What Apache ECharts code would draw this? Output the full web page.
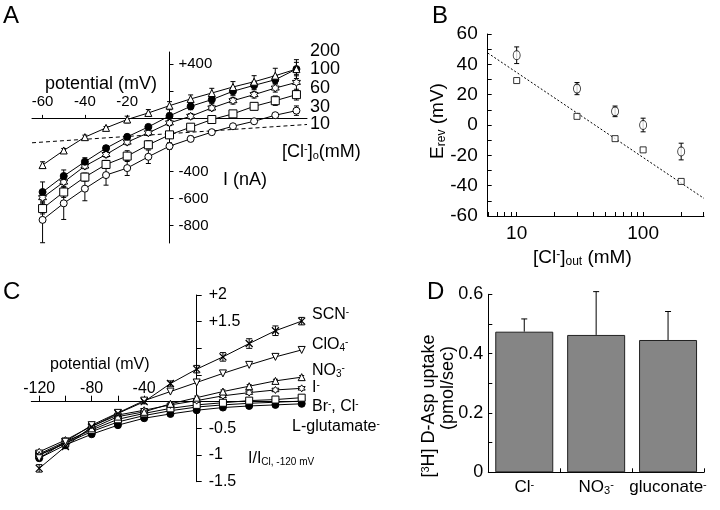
<!DOCTYPE html>
<html>
<head>
<meta charset="utf-8">
<script src="https://cdn.jsdelivr.net/npm/echarts@6/dist/echarts.min.js"></script>
<style>
  html, body { margin: 0; background: #fff; }
  #main { width: 720px; height: 510px; }
</style>
</head>
<body>
<div id="main"></div>
<script>
// A: I-V curves at different [Cl-]o
const vA = [-60, -50, -40, -30, -20, -10, 0, 10, 20, 30, 40, 50, 60]
const iA200 = [-351, -242, -143, -74, -12, 37, 91, 141, 185, 230, 269, 314, 363]
const eA200 = [25, 15, 15, 10, 25, 25, 30, 30, 35, 40, 45, 55, 70]
const iA100 = [-551, -432, -326, -225, -141, -67, 15, 86, 136, 198, 242, 284, 363]
const eA100 = [75, 45, 30, 20, 15, 15, 20, 25, 30, 30, 30, 30, 50]
const iA60 = [-593, -477, -358, -272, -180, -111, -37, 12, 74, 128, 173, 222, 264]
const eA60 = [25, 20, 20, 20, 20, 20, 20, 20, 20, 25, 25, 30, 60]
const iA30 = [-674, -551, -440, -346, -284, -200, -126, -69, -12, 30, 86, 128, 173]
const eA30 = [40, 40, 30, 30, 40, 30, 25, 15, 15, 15, 25, 35, 40]
const iA10 = [-758, -635, -526, -425, -373, -289, -210, -156, -106, -62, -25, 20, 54]
const eA10 = [170, 120, 90, 75, 55, 50, 25, 20, 10, 10, 10, 10, 35]
const leakV = [-65, 65]
const leakI = [-185, -49]
const tickA_x = [-60, -40, -20]
const tickA_y = [400, 200, -200, -400, -600, -800]
const labelA_y = [400, -400, -600, -800]

// B: reversal potential vs [Cl-]out
const clB = [10, 30, 60, 100, 200]
const eRevCirc = [46, 24, 9, 0, -17.5]
const eRevCircErr = [5.5, 4, 3.5, 4.5, 5.5]
const eRevSq = [29.3, 5.7, -9, -16.4, -37.2]
const nernstX = [5.9, 303]
const nernstY = [47.5, -48.4]
const tickB_x = [6, 7, 8, 9, 10, 20, 30, 40, 50, 60, 70, 80, 90, 100, 200, 300]

// C: normalised I-V with different anions
const vC = [-120, -100, -80, -60, -40, -20, 0, 20, 40, 60, 80]
const cSCN = [-1.25, -0.84, -0.47, -0.22, 0.0, 0.34, 0.61, 0.84, 1.09, 1.33, 1.51]
const eSCN = [0.07, 0.04, 0.03, 0.03, 0.04, 0.05, 0.07, 0.08, 0.09, 0.09, 0.07]
const cClO4 = [-1.06, -0.75, -0.44, -0.21, 0.02, 0.19, 0.36, 0.53, 0.69, 0.84, 0.97]
const cNO3 = [-1.0, -0.78, -0.5, -0.28, -0.19, -0.04, 0.075, 0.19, 0.29, 0.39, 0.46]
const eNO3 = [0.03, 0.03, 0.03, 0.03, 0.03, 0.03, 0.03, 0.03, 0.03, 0.03, 0.03]
const cI = [-0.94, -0.72, -0.46, -0.25, -0.16, -0.06, 0.02, 0.11, 0.17, 0.22, 0.25]
const cBr = [-0.98, -0.75, -0.53, -0.33, -0.22, -0.125, -0.06, -0.02, 0.02, 0.04, 0.075]
const cCl = [-1.0, -0.78, -0.56, -0.38, -0.26, -0.17, -0.1, -0.06, -0.03, -0.01, 0.01]
const cGlu = [-1.06, -0.81, -0.61, -0.44, -0.31, -0.23, -0.16, -0.11, -0.08, -0.06, -0.04]
const tickC_x = [-120, -100, -80, -60, -40]
const labelC_x = [-120, -80, -40]

// D: D-Asp uptake
const anionsD = ['Cl-', 'NO3-', 'gluconate-']
const anionLabelsD = ['Cl{sup|-}', 'NO{sub|3}{sup|-}', 'gluconate{sup|-}']
const uptakeD = [0.474, 0.463, 0.446]
const uptakeErrD = [0.043, 0.146, 0.096]

const FONT = '"Liberation Sans", Arial, Helvetica, sans-serif'
const pairs = (xs, ys) => xs.map((x, i) => [x, ys[i]])
const triples = (xs, ys, es) => xs.map((x, i) => [x, ys[i], es[i]])
const rich = size => ({
  sup: { fontSize: Math.round(size * 0.62), fontFamily: FONT, verticalAlign: 'top', lineHeight: size },
  sub: { fontSize: Math.round(size * 0.62), fontFamily: FONT, verticalAlign: 'bottom', lineHeight: size }
})
const hexStar = 'path://M0,-10L2.9,-5L8.7,-5L5.8,0L8.7,5L2.9,5L0,10L-2.9,5L-8.7,5L-5.8,0L-8.7,-5L-2.9,-5Z'
const cross = 'path://M0,0L10,10M10,0L0,10'
const black = { color: '#000', width: 1 }

function curve(g, xs, ys, symbol, size, filled, extra) {
  return Object.assign({
    type: 'line', xAxisIndex: g, yAxisIndex: g, data: pairs(xs, ys),
    symbol, symbolSize: size, showSymbol: true, z: 3, silent: true,
    lineStyle: black,
    itemStyle: { color: filled ? '#000' : '#fff', borderColor: '#000', borderWidth: 1 }
  }, extra)
}

function errorBars(g, xs, ys, es, capW, upOnly) {
  return {
    type: 'custom', xAxisIndex: g, yAxisIndex: g, z: 2, silent: true,
    data: triples(xs, ys, es),
    renderItem: (params, api) => {
      const x = api.value(0), y = api.value(1), e = api.value(2)
      const top = api.coord([x, y + e])
      const bot = api.coord([x, upOnly ? y : y - e])
      const st = { stroke: '#000', lineWidth: 1 }
      const kids = [
        { type: 'line', shape: { x1: top[0], y1: top[1], x2: bot[0], y2: bot[1] }, style: st },
        { type: 'line', shape: { x1: top[0] - capW, y1: top[1], x2: top[0] + capW, y2: top[1] }, style: st }
      ]
      if (!upOnly) kids.push({ type: 'line', shape: { x1: bot[0] - capW, y1: bot[1], x2: bot[0] + capW, y2: bot[1] }, style: st })
      return { type: 'group', children: kids }
    }
  }
}

function txt(x, y, text, size, extra) {
  return Object.assign({
    type: 'text', x, y, silent: true,
    style: {
      text, fontSize: size, fontFamily: FONT, fill: '#000',
      align: 'left', textAlign: 'left', verticalAlign: 'middle', textVerticalAlign: 'middle',
      rich: rich(size)
    }
  }, extra)
}

function vtxt(x, y, text, size) {
  const t = txt(0, 0, text, size, { rotation: Math.PI / 2, x, y })
  t.style.align = t.style.textAlign = 'center'
  return t
}

const myChart = echarts.init(document.getElementById('main'))

// crossed axes in A and C: pushed into the grid with a negative offset so they sit on zero
const option = {
  animation: false,
  textStyle: { fontFamily: FONT, color: '#000' },
  grid: [
    { left: 32, right: 413, top: 52, bottom: 267 },
    { left: 487.7, right: 16, top: 34, bottom: 294 },
    { left: 31.3, right: 415.7, top: 295, bottom: 28.3 },
    { left: 488.3, right: 16, top: 294.3, bottom: 37.7 }
  ],
  xAxis: [
    {
      gridIndex: 0, type: 'value', min: -65, max: 65, position: 'top', offset: -65.9,
      axisLine: { onZero: false, lineStyle: black },
      axisTick: { show: true, length: 3, customValues: tickA_x, lineStyle: black },
      axisLabel: { customValues: tickA_x, fontSize: 15, color: '#000', margin: 9 },
      splitLine: { show: false }
    },
    {
      gridIndex: 1, type: 'log', logBase: 10, min: 5.9, max: 303,
      axisLine: { onZero: false, lineStyle: black },
      axisTick: { show: true, inside: true, length: 4, customValues: tickB_x, lineStyle: black },
      axisLabel: { fontSize: 19, color: '#000', margin: 8, showMinLabel: false, showMaxLabel: false },
      splitLine: { show: false }, minorTick: { show: false }
    },
    {
      gridIndex: 2, type: 'value', min: -126, max: 82, position: 'top', offset: -106.7,
      axisLine: { onZero: false, lineStyle: black },
      axisTick: { show: true, length: 6, customValues: tickC_x, lineStyle: black },
      axisLabel: { customValues: labelC_x, fontSize: 16, color: '#000', margin: 5 },
      splitLine: { show: false }
    },
    {
      gridIndex: 3, type: 'category', data: anionsD,
      axisLine: { lineStyle: black },
      axisTick: { show: true, inside: true, length: 4, lineStyle: black },
      axisLabel: {
        interval: 0, fontSize: 17, color: '#000', margin: 7, rich: rich(17),
        formatter: (v, i) => anionLabelsD[i]
      },
      splitLine: { show: false }
    }
  ],
  yAxis: [
    {
      gridIndex: 0, type: 'value', min: -930, max: 490, position: 'right', offset: -137.5,
      axisLine: { onZero: false, lineStyle: black },
      axisTick: { show: true, length: 4, customValues: tickA_y, lineStyle: black },
      axisLabel: {
        customValues: labelA_y, fontSize: 15, color: '#000', margin: 9,
        formatter: v => (v > 0 ? '+' + v : '' + v)
      },
      splitLine: { show: false }
    },
    {
      gridIndex: 1, type: 'value', min: -60, max: 60, interval: 10,
      axisLine: { show: true, onZero: false, lineStyle: black },
      axisTick: { show: true, inside: true, length: 4, lineStyle: black },
      axisLabel: {
        fontSize: 19, color: '#000', margin: 10,
        formatter: v => (v % 20 === 0 ? '' + v : '')
      },
      splitLine: { show: false }
    },
    {
      gridIndex: 2, type: 'value', min: -1.5, max: 2, interval: 0.5, position: 'right', offset: -107.6,
      axisLine: { onZero: false, lineStyle: black },
      axisTick: { show: true, length: 5, lineStyle: black },
      axisLabel: {
        fontSize: 16, color: '#000', margin: 12,
        formatter: v => (v >= 1.5 ? '+' + v : v < 0 ? '' + v : '')
      },
      splitLine: { show: false }
    },
    {
      gridIndex: 3, type: 'value', min: 0, max: 0.6, interval: 0.1,
      axisLine: { show: true, lineStyle: black },
      axisTick: { show: true, inside: true, length: 4, lineStyle: black },
      axisLabel: {
        fontSize: 18, color: '#000', margin: 5,
        formatter: v => (Math.round(v * 10) % 2 === 0 ? (v === 0 ? '0' : v.toFixed(1)) : '')
      },
      splitLine: { show: false }
    }
  ],
  series: [
    // A
    errorBars(0, vA, iA200, eA200, 2.5),
    errorBars(0, vA, iA100, eA100, 2.5),
    errorBars(0, vA, iA60, eA60, 2.5),
    errorBars(0, vA, iA30, eA30, 2.5),
    errorBars(0, vA, iA10, eA10, 2.5),
    {
      type: 'line', xAxisIndex: 0, yAxisIndex: 0, data: pairs(leakV, leakI),
      showSymbol: false, silent: true, z: 1,
      lineStyle: { color: '#000', width: 1, type: [4, 3] }
    },
    curve(0, vA, iA10, 'circle', 7, false),
    curve(0, vA, iA30, 'rect', 8, false),
    curve(0, vA, iA60, hexStar, 8, false),
    curve(0, vA, iA100, 'circle', 7, true),
    curve(0, vA, iA200, 'triangle', 7, false),
    // B
    {
      type: 'line', xAxisIndex: 1, yAxisIndex: 1, data: pairs(nernstX, nernstY),
      showSymbol: false, silent: true, z: 1,
      lineStyle: { color: '#000', width: 1, type: [2, 2] }
    },
    errorBars(1, clB, eRevCirc, eRevCircErr, 2.5),
    {
      type: 'scatter', xAxisIndex: 1, yAxisIndex: 1, data: pairs(clB, eRevCirc),
      symbol: 'circle', symbolSize: [7, 9], silent: true, z: 3,
      itemStyle: { color: '#fff', borderColor: '#000', borderWidth: 1 }
    },
    {
      type: 'scatter', xAxisIndex: 1, yAxisIndex: 1, data: pairs(clB, eRevSq),
      symbol: 'rect', symbolSize: 6, silent: true, z: 3,
      itemStyle: { color: '#fff', borderColor: '#000', borderWidth: 1 }
    },
    // C
    errorBars(2, vC, cSCN, eSCN, 3),
    errorBars(2, vC, cNO3, eNO3, 2.5),
    curve(2, vC, cGlu, 'circle', 7, true),
    curve(2, vC, cCl, 'rect', 6, true),
    curve(2, vC, cBr, 'rect', 7, false),
    curve(2, vC, cI, hexStar, 7, false),
    curve(2, vC, cNO3, 'triangle', 7, false),
    curve(2, vC, cClO4, 'triangle', 7, false, { symbolRotate: 180 }),
    curve(2, vC, cSCN, cross, 7, false, { itemStyle: { color: '#000', borderColor: '#000', borderWidth: 1.2 } }),
    // D
    {
      type: 'bar', xAxisIndex: 3, yAxisIndex: 3, data: uptakeD, barWidth: 58, silent: true,
      itemStyle: { color: '#858585', borderColor: '#222', borderWidth: 1 }
    },
    errorBars(3, [0, 1, 2], uptakeD, uptakeErrD, 3, true)
  ],
  graphic: [
    txt(3, 16, 'A', 24),
    txt(432, 16, 'B', 24),
    txt(3, 292, 'C', 24),
    txt(427, 292, 'D', 24),
    // A labels
    txt(45, 84, 'potential (mV)', 18),
    txt(223, 180, 'I (nA)', 18),
    txt(310, 51, '200', 18),
    txt(310, 69, '100', 18),
    txt(310, 88, '60', 18),
    txt(310, 107, '30', 18),
    txt(310, 124, '10', 18),
    txt(282, 152, '[Cl{sup|-}]{sub|o}(mM)', 18),
    // B labels
    vtxt(438, 121, 'E{sub|rev} (mV)', 19),
    txt(533, 258, '[Cl{sup|-}]{sub|out} (mM)', 19),
    // C labels
    txt(50, 365, 'potential (mV)', 16),
    txt(312, 315, 'SCN{sup|-}', 16),
    txt(312, 345, 'ClO{sub|4}{sup|-}', 16),
    txt(312, 371, 'NO{sub|3}{sup|-}', 16),
    txt(312, 388, 'I{sup|-}', 16),
    txt(312, 407, 'Br{sup|-}, Cl{sup|-}', 16),
    txt(292, 427, 'L-glutamate{sup|-}', 16),
    txt(248, 459, 'I/I{sub|Cl, -120 mV}', 16),
    // D labels
    vtxt(429, 406, '[{sup|3}H] D-Asp uptake', 18),
    vtxt(448, 388, '(pmol/sec)', 18)
  ]
}

myChart.setOption(option)
</script>
</body>
</html>
